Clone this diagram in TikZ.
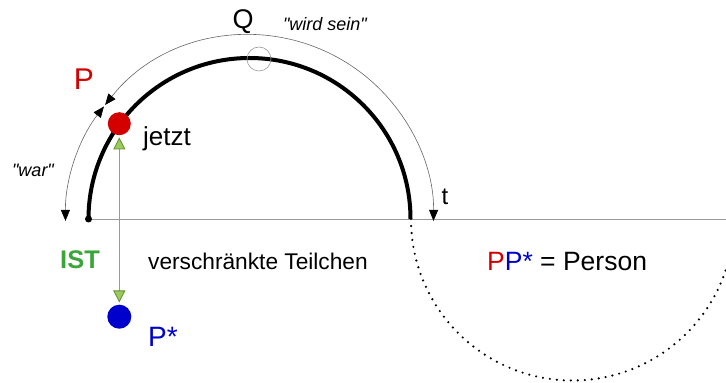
\documentclass[tikz,border=0pt]{standalone}
\usepackage{fontspec}
\setmainfont{Liberation Sans}
\usepackage{tikz}
\usetikzlibrary{arrows.meta,positioning}
\definecolor{pred}{HTML}{D40000}
\definecolor{pblue}{HTML}{0000CC}
\definecolor{istgreen}{HTML}{3AA53A}
\definecolor{tipgreen}{HTML}{9BCB5A}
\definecolor{tipedge}{HTML}{5E8F2E}
\definecolor{rule}{HTML}{9A9A9A}
\newcommand{\fsz}[1]{\fontsize{#1}{#1}\selectfont}
\tikzset{world/.style={draw=black,line width=4pt},timeline/.style={draw=rule,line width=.8pt},future/.style={draw=black,line width=2.4pt,line cap=round,dash pattern=on 0pt off 7pt},timearrow/.style={{Triangle[length=11pt,width=9pt,color=black]}-{Triangle[length=11pt,width=9pt,color=black]},draw=black!60,line width=.6pt},link/.style={{Triangle[length=12pt,width=12pt,color=tipedge,fill=tipgreen]}-{Triangle[length=12pt,width=12pt,color=tipedge,fill=tipgreen]},draw=rule,line width=.8pt},particle/.style={circle,inner sep=0pt,minimum size=24pt},lbl/.style={inner sep=0pt}}

\begin{document}
\begin{tikzpicture}[x=1pt,y=1pt]
\useasboundingbox (0,0) rectangle (726,383);
\coordinate (o) at (249.5,164);
\coordinate (axisend) at (726,164);
\node[circle,fill=black,inner sep=0pt,minimum size=7pt] (start) at (88.5,164) {};
\draw[timeline] (start) -- (axisend);
% Welt (oben) und Spiegelwelt (unten, gepunktet)
\begin{scope}
\clip (0,0) rectangle (726,383);
\draw[future] (411,164) arc[start angle=180,end angle=360,radius=161.5];
\end{scope}
\draw[world] (start.center) arc[start angle=180,end angle=0,radius=161];
\draw[timearrow] ([shift={(142.3:184)}]o) arc[start angle=142.3,end angle=180.6,radius=184];
\draw[timearrow] ([shift={(141.7:184)}]o) arc[start angle=141.7,end angle=-0.6,radius=184];
\node[circle,draw=rule,line width=.6pt,inner sep=0pt,minimum size=24pt] (q) at (259,324) {};
% Teilchen
\node[particle,fill=pred,minimum size=23pt] (p) at (119.3,259.3) {};
\node[particle,fill=pblue] (pstar) at (119.3,66.3) {};
\draw[link,shorten <=2pt,shorten >=2pt] (p) -- (pstar);
% Beschriftungen
\node[lbl,text=pred,font=\fsz{30}] (plbl) at (84,304) {P};
\node[lbl,anchor=west,font=\fsz{26}] (jetzt) at (143,244) {jetzt};
\node[lbl,font=\fsz{18}\itshape] (war) at (33,213) {\textquotedbl war\textquotedbl};
\node[lbl,font=\fsz{27}] (qlbl) at (243,361) {Q};
\node[lbl,font=\fsz{18}\itshape] (wird) at (325,359) {\textquotedbl wird sein\textquotedbl};
\node[lbl,font=\fsz{24}] (tlbl) at (445,186) {t};
\node[lbl,text=istgreen,font=\fsz{25.5}\bfseries] (ist) at (80,123) {IST};
\node[lbl,anchor=west,font=\fsz{22.7}] (teilchen) at (148,121.5) {verschränkte Teilchen};
\node[lbl,anchor=west,font=\fsz{26.5}] (person) at (487,121.5) {\textcolor{pred}{P}\textcolor{pblue}{P*} = Person};
\node[lbl,anchor=west,text=pblue,font=\fsz{28}] (pstarlbl) at (148,46) {P*};
\end{tikzpicture}
\end{document}
